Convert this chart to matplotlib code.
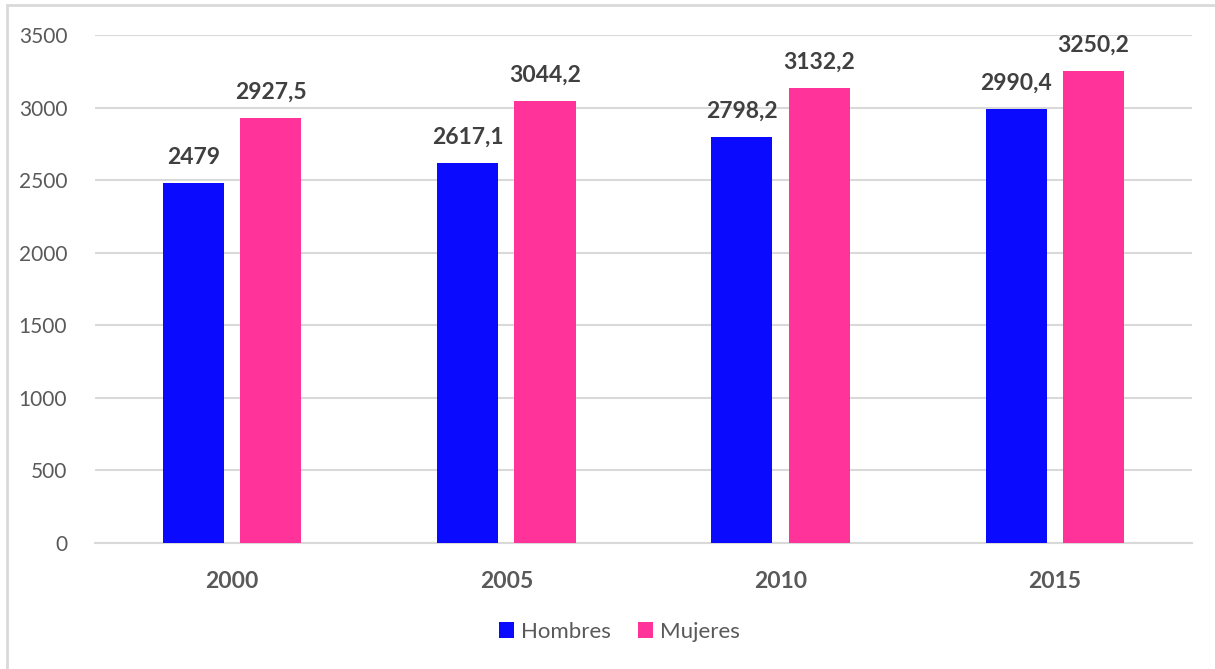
import numpy as np
import matplotlib.pyplot as plt
from matplotlib.patches import Rectangle

years = ['2000', '2005', '2010', '2015']
hombres = [2479, 2617.1, 2798.2, 2990.4]
mujeres = [2927.5, 3044.2, 3132.2, 3250.2]
hombres_labels = ['2479', '2617,1', '2798,2', '2990,4']
mujeres_labels = ['2927,5', '3044,2', '3132,2', '3250,2']

plt.rcParams['font.family'] = ['Lato', 'DejaVu Sans']

fig = plt.figure(figsize=(12.15, 6.69), dpi=100)
# outer chart frame
fig.patches.append(Rectangle((0.006, -0.01), 0.995, 1.003, transform=fig.transFigure,
                             fill=False, edgecolor='#D9D9D9', linewidth=2))
ax = fig.add_axes([0.0782, 0.1883, 0.9028, 0.7594])

x = np.arange(len(years))
w = 0.223
off = 0.141
b1 = ax.bar(x - off, hombres, w, color='#0A0AFF', label='Hombres', zorder=3)
b2 = ax.bar(x + off, mujeres, w, color='#FF3399', label='Mujeres', zorder=3)

for bars, labels in [(b1, hombres_labels), (b2, mujeres_labels)]:
    for rect, lab in zip(bars, labels):
        ax.annotate(lab, (rect.get_x() + rect.get_width() / 2, rect.get_height()),
                    xytext=(0, 11), textcoords='offset points', ha='center', va='bottom',
                    fontsize=16.5, fontweight='bold', color='#404040')

ax.set_xlim(-0.5, 3.5)
ax.set_ylim(0, 3500)
ax.set_yticks(range(0, 3501, 500))
ax.set_xticks(x)
ax.set_xticklabels(years, fontsize=16.5, fontweight='bold', color='#595959')
ax.tick_params(axis='y', labelsize=15, labelcolor='#595959', length=0, pad=20)
ax.tick_params(axis='x', length=0, pad=20)
ax.grid(axis='y', color='#D9D9D9', linewidth=1.5, zorder=0)
for s in ['top', 'right', 'left']:
    ax.spines[s].set_visible(False)
ax.spines['bottom'].set_color('#D9D9D9')
ax.spines['bottom'].set_linewidth(1.5)

leg = ax.legend(loc='center', bbox_to_anchor=(0.478, -0.175), ncol=2, frameon=False,
                fontsize=16, handlelength=0.7, handleheight=0.7, handletextpad=0.3,
                columnspacing=1.2)
for t in leg.get_texts():
    t.set_color('#595959')

fig.savefig('out.png', dpi=100)
